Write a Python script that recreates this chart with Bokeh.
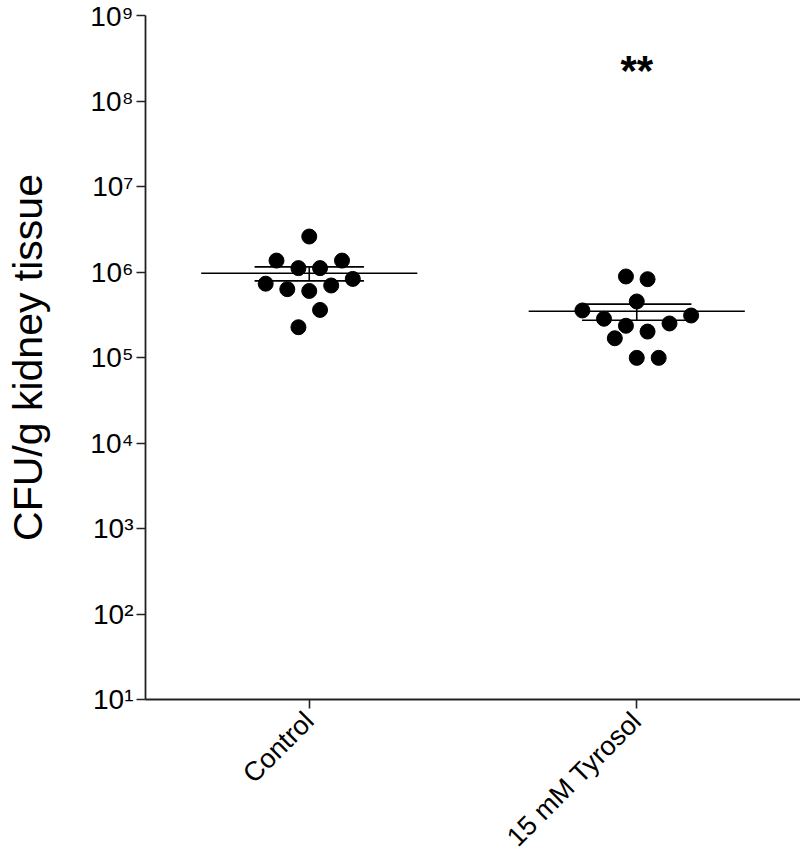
import math
import numpy as np
from bokeh.plotting import figure
from bokeh.models import Range1d, FixedTicker, ColumnDataSource
from bokeh.core.properties import value
from bokeh.embed import file_html
from bokeh.resources import INLINE

# ---- data ----
groups = ["Control", "15 mM Tyrosol"]
control_vals = [2.60e6, 1.36e6, 1.36e6, 1.11e6, 1.11e6, 8.3e5, 7.3e5, 6.3e5, 6.95e5, 6.0e5, 3.6e5, 2.26e5]
control_jitter = [0, -0.1, 0.1, -0.033, 0.033, 0.133, -0.133, -0.067, 0.067, 0, 0.033, -0.033]
tyrosol_vals = [8.86e5, 8.24e5, 4.52e5, 3.55e5, 3.10e5, 2.84e5, 2.50e5, 2.35e5, 2.01e5, 1.68e5, 9.9e4, 9.9e4]
tyrosol_jitter = [-0.033, 0.033, 0, -0.166, 0.166, -0.1, 0.1, -0.033, 0.033, -0.067, 0, 0.067]
y_ticks = [1e1, 1e2, 1e3, 1e4, 1e5, 1e6, 1e7, 1e8, 1e9]
y_tick_labels = ["10¹", "10²", "10³", "10⁴", "10⁵", "10⁶", "10⁷", "10⁸", "10⁹"]
signif_label = "**"
signif_y = 2.28e8

FONT = "Liberation Sans"

p = figure(width=800, height=867, x_range=Range1d(-0.5, 1.5), y_range=Range1d(10, 1e9),
           y_axis_type="log", output_backend="svg", toolbar_location=None,
           min_border_left=145, min_border_right=0, min_border_top=15, min_border_bottom=168)
p.grid.visible = False
p.outline_line_color = None
p.background_fill_color = "white"
p.border_fill_color = "white"

AX = "#222222"
for ax in (p.xaxis[0], p.yaxis[0]):
    ax.axis_line_color = AX
    ax.axis_line_width = 1.8
    ax.major_tick_line_color = AX
    ax.major_tick_line_width = 1.6
    ax.major_tick_out = 9
    ax.major_tick_in = 0
    ax.minor_tick_line_color = None
    ax.major_label_text_font = FONT
    ax.major_label_text_font_size = "28px"
    ax.major_label_text_color = "black"

p.yaxis.ticker = FixedTicker(ticks=y_ticks, minor_ticks=[])
p.yaxis.major_label_overrides = {t: l for t, l in zip(y_ticks, y_tick_labels)}
p.yaxis.major_label_standoff = 3
p.yaxis.axis_label = "CFU/g kidney tissue"
p.yaxis.axis_label_text_font = FONT
p.yaxis.axis_label_text_font_size = "41px"
p.yaxis.axis_label_text_font_style = "normal"
p.yaxis.axis_label_text_color = "black"
p.yaxis.axis_label_standoff = 36

p.xaxis.ticker = FixedTicker(ticks=[0, 1], minor_ticks=[])
p.xaxis.major_label_overrides = {i: g for i, g in enumerate(groups)}
p.xaxis.major_label_orientation = math.pi / 4
p.xaxis.major_label_text_font_size = "27px"
p.xaxis.major_label_standoff = 8

# mean and SEM lines
all_vals = [control_vals, tyrosol_vals]
all_jit = [control_jitter, tyrosol_jitter]
for i, vals in enumerate(all_vals):
    arr = np.array(vals)
    m = arr.mean()
    sem = arr.std(ddof=1) / math.sqrt(len(arr))
    p.segment(x0=[i - 0.33], x1=[i + 0.33], y0=[m], y1=[m], line_color="black", line_width=1.6)
    p.segment(x0=[i - 0.167, i - 0.167, i], x1=[i + 0.167, i + 0.167, i],
              y0=[m + sem, m - sem, m - sem], y1=[m + sem, m - sem, m + sem],
              line_color="black", line_width=1.6)

for i, (vals, jit) in enumerate(zip(all_vals, all_jit)):
    src = ColumnDataSource(dict(x=[i + j for j in jit], y=vals))
    p.scatter("x", "y", source=src, size=15, fill_color="black", line_color="black")

p.text(x=[1], y=[signif_y], text=[signif_label], text_align="center", text_baseline="alphabetic",
       text_font=value(FONT), text_font_size="42px", text_font_style="bold", text_color="black")

open("out.html", "w").write(file_html(p, INLINE))
